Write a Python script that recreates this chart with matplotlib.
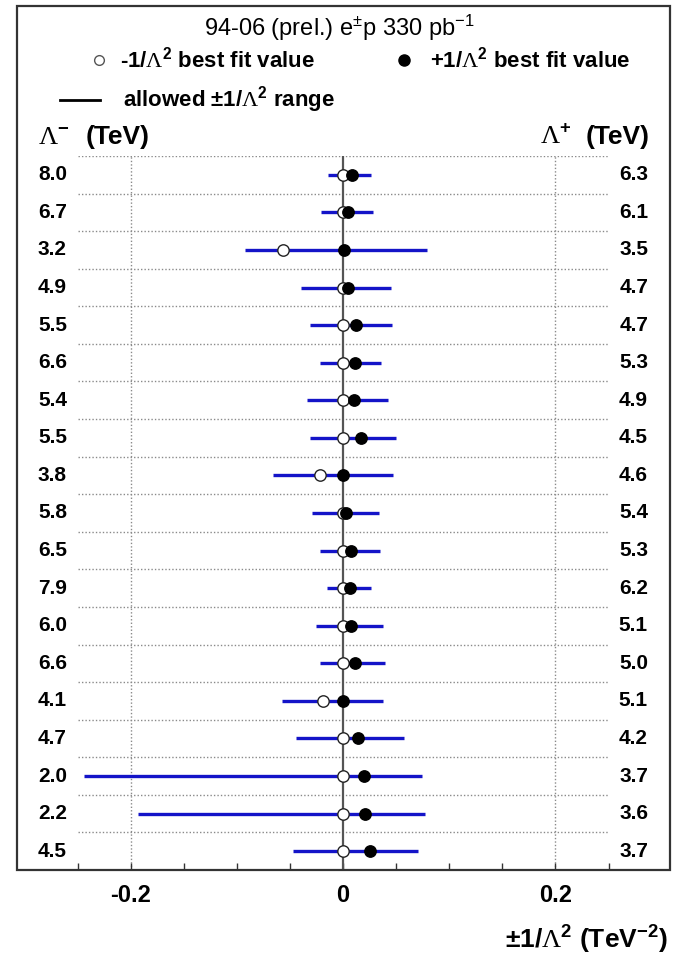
import matplotlib
matplotlib.use("Agg")
import matplotlib.pyplot as plt
from matplotlib.patches import Rectangle
from matplotlib.lines import Line2D
import matplotlib.transforms as mtransforms

plt.rcParams['font.family'] = ['Liberation Sans', 'DejaVu Sans']
plt.rcParams['mathtext.fontset'] = 'custom'
plt.rcParams['mathtext.rm'] = 'Liberation Sans'
plt.rcParams['mathtext.bf'] = 'Liberation Sans:bold'
plt.rcParams['mathtext.it'] = 'Liberation Sans:italic'
plt.rcParams['mathtext.sf'] = 'Liberation Serif'
plt.rcParams['mathtext.default'] = 'bf'

# ---------------- data ----------------
lam_minus = ["8.0", "6.7", "3.2", "4.9", "5.5", "6.6", "5.4", "5.5", "3.8", "5.8",
             "6.5", "7.9", "6.0", "6.6", "4.1", "4.7", "2.0", "2.2", "4.5"]
lam_plus = ["6.3", "6.1", "3.5", "4.7", "4.7", "5.3", "4.9", "4.5", "4.6", "5.4",
            "5.3", "6.2", "5.1", "5.0", "5.1", "4.2", "3.7", "3.6", "3.7"]
range_lo = [-0.014, -0.021, -0.092, -0.040, -0.031, -0.022, -0.034, -0.031, -0.066, -0.029,
            -0.022, -0.015, -0.025, -0.022, -0.057, -0.044, -0.244, -0.193, -0.047]
range_hi = [0.026, 0.028, 0.079, 0.045, 0.046, 0.036, 0.042, 0.050, 0.047, 0.034,
            0.035, 0.026, 0.038, 0.040, 0.038, 0.057, 0.074, 0.077, 0.071]
fit_minus = [0.0, 0.0, -0.0566, 0.0, 0.0, 0.0, 0.0, 0.0, -0.0217, 0.0,
             0.0, 0.0, 0.0, 0.0, -0.0187, 0.0, 0.0, 0.0, 0.0]
fit_plus = [0.0085, 0.005, 0.001, 0.0043, 0.0125, 0.011, 0.0105, 0.017, 0.0, 0.003,
            0.0078, 0.0065, 0.0078, 0.0113, 0.0, 0.014, 0.0195, 0.021, 0.0257]
xticks_major = [-0.2, 0.0, 0.2]
xtick_labels = ["-0.2", "0", "0.2"]

W, H = 677, 960
fig = plt.figure(figsize=(W / 100, H / 100), dpi=100)

def fx(px):
    return px / W

def fy(py):
    return 1 - py / H

# outer frame
fig.patches.append(Rectangle((fx(17), fy(870)), fx(670) - fx(17), fy(6) - fy(870),
                             transform=fig.transFigure, fill=False,
                             edgecolor='#333333', linewidth=1.6, zorder=0))

ax_left, ax_right = 77.5, 608.5
ax_top, ax_bot = 156, 870
ax = fig.add_axes([fx(ax_left), fy(ax_bot), fx(ax_right) - fx(ax_left), fy(ax_top) - fy(ax_bot)])
ax.set_xlim(-0.25, 0.25)
n = len(lam_minus)
ax.set_ylim(n - 0.5, -0.5)
for s in ax.spines.values():
    s.set_visible(False)
ax.patch.set_alpha(0)

rows = list(range(n))

# separators and grid
for i in range(n):
    ax.axhline(i - 0.5, color='#8a8a8a', lw=1.0, ls=(0, (1, 1.5)), zorder=1)
for xv in (-0.2, 0.2):
    ax.axvline(xv, color='#8a8a8a', lw=1.0, ls=(0, (1, 1.5)), zorder=1)
ax.axvline(0, color='#555555', lw=1.6, zorder=2)

ax.hlines(rows, range_lo, range_hi, color='#1414c8', lw=2.4, zorder=3)
ax.plot(fit_minus, rows, 'o', ms=8.2, mfc='white', mec='#222222', mew=1.0, ls='none', zorder=4)
ax.plot(fit_plus, rows, 'o', ms=8.2, mfc='black', mec='black', ls='none', zorder=5)

# ticks
ax.set_xticks(xticks_major)
ax.set_xticklabels(xtick_labels, fontsize=17, fontweight='bold')
ax.set_xticks([-0.25, -0.15, -0.1, -0.05, 0.05, 0.1, 0.15, 0.25], minor=True)
ax.tick_params(axis='x', which='both', direction='in', length=5, width=1, color='#333333',
               pad=10, top=False, bottom=True)
ax.set_yticks([])

# row labels
trans = mtransforms.blended_transform_factory(fig.transFigure, ax.transData)
for i in range(n):
    ax.text(fx(67), i, lam_minus[i], transform=trans, ha='right', va='center',
            fontsize=15, fontweight='bold')
    ax.text(fx(648), i, lam_plus[i], transform=trans, ha='right', va='center',
            fontsize=15, fontweight='bold')

# title
fig.text(fx(339), fy(28), r'94-06 (prel.) e$^{\mathrm{\pm}}$p 330 pb$^{\mathrm{-1}}$',
         ha='center', va='center', fontsize=17)

# legend
fig.lines.append(Line2D([fx(99)], [fy(60)], marker='o', ms=7, mfc='white', mec='#555555',
                        mew=1.0, ls='none', transform=fig.transFigure))
fig.text(fx(120), fy(60), r'-1/$\mathsf{\Lambda}^{2}$ best fit value', ha='left', va='center',
         fontsize=16, fontweight='bold')
fig.lines.append(Line2D([fx(404)], [fy(60)], marker='o', ms=8, mfc='black', mec='black',
                        ls='none', transform=fig.transFigure))
fig.text(fx(430), fy(60), r'+1/$\mathsf{\Lambda}^{2}$ best fit value', ha='left', va='center',
         fontsize=16, fontweight='bold')
fig.lines.append(Line2D([fx(60), fx(100)], [fy(100), fy(100)], color='black', lw=2,
                        transform=fig.transFigure))
fig.text(fx(123), fy(100), r'allowed $\pm$1/$\mathsf{\Lambda}^{2}$ range', ha='left',
         va='center', fontsize=16, fontweight='bold')

# column headers
fig.text(fx(38), fy(137), r'$\mathsf{\Lambda}^{-}$', ha='left', va='center', fontsize=19)
fig.text(fx(86), fy(137), '(TeV)', ha='left', va='center', fontsize=19, fontweight='bold')
fig.text(fx(540), fy(137), r'$\mathsf{\Lambda}^{+}$', ha='left', va='center', fontsize=19)
fig.text(fx(650), fy(137), '(TeV)', ha='right', va='center', fontsize=19, fontweight='bold')

# x label
fig.text(fx(668), fy(940), r'$\pm$1/$\mathsf{\Lambda}^{2}$ (TeV$^{-2}$)', ha='right',
         va='center', fontsize=19, fontweight='bold')

fig.savefig('out.png', dpi=100)
